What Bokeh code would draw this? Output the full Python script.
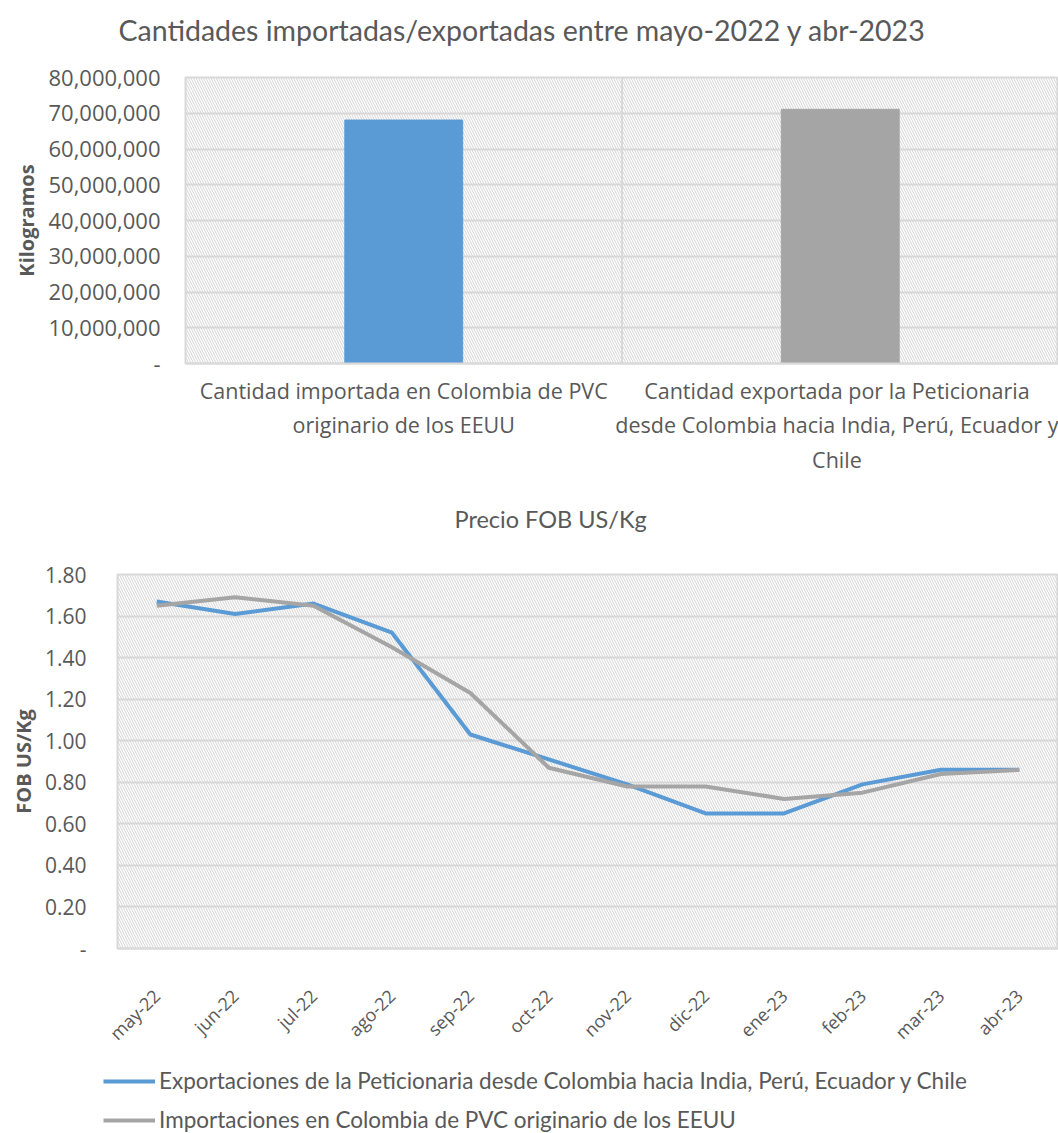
from bokeh.plotting import figure
from bokeh.layouts import column, row
from bokeh.models import (FactorRange, Range1d, FixedTicker, NumeralTickFormatter,
                          BoxAnnotation, Span, Legend, LegendItem, ColumnDataSource, Title)
from bokeh.embed import file_html
from bokeh.resources import INLINE
import math

# ---------------- data ----------------
bar_categories = [
    "Cantidad importada en Colombia de PVC\noriginario de los EEUU",
    "Cantidad exportada por la Peticionaria\ndesde Colombia hacia India, Perú, Ecuador y\nChile",
]
bar_values = [68_100_000, 71_100_000]
bar_colors = ["#5B9BD5", "#A5A5A5"]
bar_yticks = [0, 10_000_000, 20_000_000, 30_000_000, 40_000_000,
              50_000_000, 60_000_000, 70_000_000, 80_000_000]

months = ["may-22", "jun-22", "jul-22", "ago-22", "sep-22", "oct-22",
          "nov-22", "dic-22", "ene-23", "feb-23", "mar-23", "abr-23"]
exportaciones = [1.67, 1.61, 1.66, 1.52, 1.03, 0.91, 0.79, 0.65, 0.65, 0.79, 0.86, 0.86]
importaciones = [1.65, 1.69, 1.65, 1.45, 1.23, 0.87, 0.78, 0.78, 0.72, 0.75, 0.84, 0.86]
line_yticks = [0.0, 0.2, 0.4, 0.6, 0.8, 1.0, 1.2, 1.4, 1.6, 1.8]
series_names = ["Exportaciones de la Peticionaria desde Colombia hacia India, Perú, Ecuador y Chile",
                "Importaciones en Colombia de PVC originario de los EEUU"]
series_values = [exportaciones, importaciones]
series_colors = ["#5B9BD5", "#A5A5A5"]

TXT = "#595959"
GRID = "#d9d9d9"
FONT = "Open Sans"
TFONT = "Lato"


def style_common(p, title_size, title_offset, spacer):
    p.background_fill_color = "white"
    p.border_fill_color = "white"
    p.outline_line_color = GRID
    p.outline_line_width = 2
    p.add_layout(BoxAnnotation(fill_alpha=0, line_alpha=0,
                               hatch_pattern="\\", hatch_color="#d4d4d4",
                               hatch_scale=5, hatch_weight=1, hatch_alpha=1.0,
                               level="underlay"))
    p.ygrid.grid_line_color = GRID
    p.ygrid.grid_line_width = 2
    p.yaxis.axis_line_color = None
    p.yaxis.major_tick_line_color = None
    p.yaxis.minor_tick_line_color = None
    p.yaxis.major_label_text_color = TXT
    p.yaxis.major_label_text_font = FONT
    p.yaxis.axis_label_text_color = TXT
    p.yaxis.axis_label_text_font = FONT
    p.yaxis.axis_label_text_font_style = "bold"
    p.xaxis.axis_line_color = GRID
    p.xaxis.axis_line_width = 2
    p.xaxis.major_tick_line_color = None
    p.xaxis.minor_tick_line_color = None
    p.xaxis.major_label_text_color = TXT
    p.xaxis.major_label_text_font = FONT
    p.title.text_color = TXT
    p.title.text_font = TFONT
    p.title.text_font_style = "normal"
    p.title.text_font_size = title_size
    p.title.align = "left"
    p.title.vertical_align = "top"
    p.title.standoff = 22
    p.title.offset = title_offset
    # blank spacer between the title and the frame
    p.add_layout(Title(text=" ", text_font_size="1px", standoff=spacer), "above")


# ---------------- top: bar chart ----------------
p1 = figure(width=1058, height=490, x_range=FactorRange(*bar_categories, range_padding=0),
            y_range=Range1d(0, 80_000_000), output_backend="svg", toolbar_location=None,
            title="Cantidades importadas/exportadas entre mayo-2022 y   abr-2023",
            min_border_left=185, min_border_right=0, min_border_top=77, min_border_bottom=127)
style_common(p1, "28.5px", -67, 15)
p1.x_range.factor_padding = 0
src1 = ColumnDataSource(dict(cat=bar_categories, val=bar_values, color=bar_colors))
p1.vbar(x="cat", top="val", width=0.27, color="color", source=src1)
p1.add_layout(Span(location=1, dimension="height", line_color=GRID, line_width=2))
p1.xgrid.grid_line_color = None
p1.yaxis.ticker = FixedTicker(ticks=bar_yticks)
p1.yaxis.formatter = NumeralTickFormatter(format="0,0")
p1.yaxis.major_label_overrides = {0: "-"}
p1.yaxis.axis_label = "Kilogramos"
p1.yaxis.axis_label_text_font_size = "20px"
p1.yaxis.major_label_text_font_size = "22px"
p1.yaxis.major_label_standoff = 19
p1.xaxis.major_label_text_font_size = "21.5px"
p1.xaxis.major_label_standoff = 6

# ---------------- bottom: line chart ----------------
p2 = figure(width=1058, height=570, x_range=FactorRange(*months),
            y_range=Range1d(0, 1.8), output_backend="svg", toolbar_location=None,
            title="Precio FOB US/Kg",
            min_border_left=117, min_border_right=0, min_border_top=84, min_border_bottom=112)
style_common(p2, "23.5px", 337, 26)
for vals, col in zip(series_values, series_colors):
    p2.line(months, vals, line_color=col, line_width=4, line_join="round")
p2.xgrid.grid_line_color = None
p2.yaxis.ticker = FixedTicker(ticks=line_yticks)
p2.yaxis.formatter = NumeralTickFormatter(format="0.00")
p2.yaxis.major_label_overrides = {0: "-"}
p2.yaxis.axis_label = "FOB US/Kg"
p2.yaxis.axis_label_text_font_size = "20px"
p2.yaxis.major_label_text_font_size = "21px"
p2.yaxis.major_label_standoff = 25
p2.xaxis.major_label_text_font_size = "18px"
p2.xaxis.major_label_orientation = math.pi / 4
p2.xaxis.major_label_standoff = 38

# ---------------- legend strip ----------------
# the series are drawn again here outside the visible y-range, only to feed the legend glyphs
p3 = figure(width=1058, height=73, x_range=FactorRange(*months), y_range=Range1d(10, 11),
            output_backend="svg", toolbar_location=None,
            min_border_left=0, min_border_right=0, min_border_top=0, min_border_bottom=0)
p3.axis.visible = False
p3.grid.visible = False
p3.outline_line_color = None
items = []
for name, vals, col in zip(series_names, series_values, series_colors):
    r = p3.line(months, vals, line_color=col, line_width=4)
    items.append(LegendItem(label=name, renderers=[r]))
legend = Legend(items=items, orientation="vertical", location=(103, 0), border_line_color=None,
                background_fill_alpha=0, label_text_color=TXT, label_text_font=TFONT,
                label_text_font_size="22.5px", glyph_width=52, spacing=12, label_standoff=4,
                padding=0, margin=0)
p3.add_layout(legend, "center")

layout = column(row(p1), row(p2), row(p3), spacing=0)
open("out.html", "w").write(file_html(layout, INLINE))
